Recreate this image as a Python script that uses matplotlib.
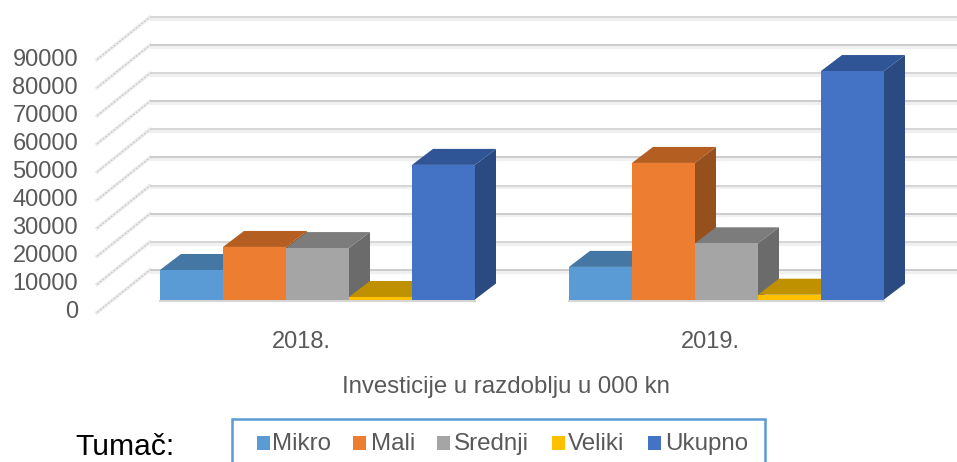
import matplotlib
matplotlib.use("Agg")
import matplotlib.pyplot as plt
from matplotlib.patches import Polygon, Rectangle

categories = ["2018.", "2019."]
series = ["Mikro", "Mali", "Srednji", "Veliki", "Ukupno"]
mikro = [10500, 11600]
mali = [18700, 48600]
srednji = [18300, 20000]
veliki = [900, 1700]
ukupno = [47900, 81300]
y_ticks = [0, 10000, 20000, 30000, 40000, 50000, 60000, 70000, 80000, 90000]
x_title = "Investicije u razdoblju u 000 kn"
legend_title = "Tumač:"

front = ["#5b9bd5", "#ed7d31", "#a5a5a5", "#ffc000", "#4472c4"]
top = ["#4477a3", "#b55e22", "#7c7c7c", "#bf9000", "#2f5597"]
side = ["#376a96", "#96501e", "#6b6b6b", "#a67c00", "#2b4a82"]

W, H = 957, 462
plt.rcParams["font.family"] = ["Liberation Sans", "DejaVu Sans"]
fig = plt.figure(figsize=(W / 100, H / 100), dpi=100)
ax = fig.add_axes([0, 0, 1, 1])
ax.axis("off")

# axis scales: one group = 409 px, 10000 = 28.1 px
PX_X = 409.0
PX_Y = 28.1 / 10000
X0, Y0 = 317.5, 299.5
ax.set_xlim(-X0 / PX_X, (W - X0) / PX_X)
ax.set_ylim((Y0 - H) / PX_Y, Y0 / PX_Y)

dxp = lambda p: p / PX_X
dyp = lambda p: p / PX_Y

# walls
wall_x, wall_y = dxp(150 - X0), dyp(Y0 - 270)
front_x, front_y = dxp(97 - X0), dyp(Y0 - 312.5)
right = dxp(W - X0)
for i, t in enumerate(y_ticks):
    y = t + wall_y
    ax.plot([wall_x, right], [y - dyp(1.6)] * 2, color="#f0f0f0", lw=3.0, zorder=1, solid_capstyle="butt")
    ax.plot([wall_x, right], [y + dyp(0.2)] * 2, color="#cccccc" if i % 2 == 0 else "#d6d6d6", lw=1.4, zorder=2, solid_capstyle="butt")
    ax.plot([front_x, wall_x], [t + front_y, y], color="#ededed", lw=2.6, zorder=1)
    ax.plot([front_x, wall_x], [t + front_y, y], color="#c6c6c6", lw=0.8, ls=(0, (1.8, 1.4)), zorder=2)
    ax.text(dxp(78 - X0), t + dyp(Y0 - 310) - dyp(2.5) + dyp(2.5), f"{t}", ha="right", va="center_baseline",
            color="#595959", fontsize=17.0, zorder=5)

# bars
bw = 63 / PX_X
ddx, ddy = dxp(21), dyp(16)
data = [mikro, mali, srednji, veliki, ukupno]
z = 10
for g in range(len(categories)):
    for j, vals in enumerate(data):
        v = vals[g]
        x0 = g + (j - 2.5) * bw
        x1 = x0 + bw
        ax.add_patch(Polygon([(x1, 0), (x1 + ddx, ddy), (x1 + ddx, v + ddy), (x1, v)],
                             closed=True, fc=side[j], ec="none", zorder=z))
        ax.add_patch(Polygon([(x0, v), (x0 + ddx, v + ddy), (x1 + ddx, v + ddy), (x1, v)],
                             closed=True, fc=top[j], ec="none", zorder=z + 1))
        ax.add_patch(Rectangle((x0, 0), bw, v, fc=front[j], ec="none", zorder=z + 2))
        z += 3
    ax.text(g - dxp(16.5), dyp(Y0 - 340), categories[g], ha="center", va="center_baseline",
            color="#595959", fontsize=17.0, zorder=5)
    ax.plot([g - 2.5 * bw, g + 2.5 * bw], [-dyp(1)] * 2, color="#d5d5d5", lw=1.5, zorder=4)

ax.text(dxp(505.5 - X0), dyp(Y0 - 385), x_title, ha="center", va="center_baseline",
        color="#595959", fontsize=17.3)

# legend box, cut by the bottom edge
bc = "#5b9bd5"
bx0, bx1 = dxp(232 - X0), dxp(765 - X0)
by0, by1 = dyp(Y0 - 480), dyp(Y0 - 419)
ax.plot([bx0, bx0, bx1, bx1], [by0, by1, by1, by0], color=bc, lw=1.8, zorder=6, solid_joinstyle="miter")

mark_l = [257, 353, 436.5, 552, 648]
text_l = [272, 371, 454, 568, 665]
for j, s in enumerate(series):
    ax.add_patch(Rectangle((dxp(mark_l[j] - X0), dyp(Y0 - 450)), dxp(13), dyp(14),
                           fc=front[j], ec="none", zorder=7))
    ax.text(dxp(text_l[j] - X0), dyp(Y0 - 450), s, ha="left", va="baseline",
            color="#595959", fontsize=17.4, zorder=7)

ax.text(dxp(75 - X0), dyp(Y0 - 455), legend_title, ha="left", va="baseline",
        color="#000000", fontsize=21.6)

fig.savefig("out.png", dpi=100)
